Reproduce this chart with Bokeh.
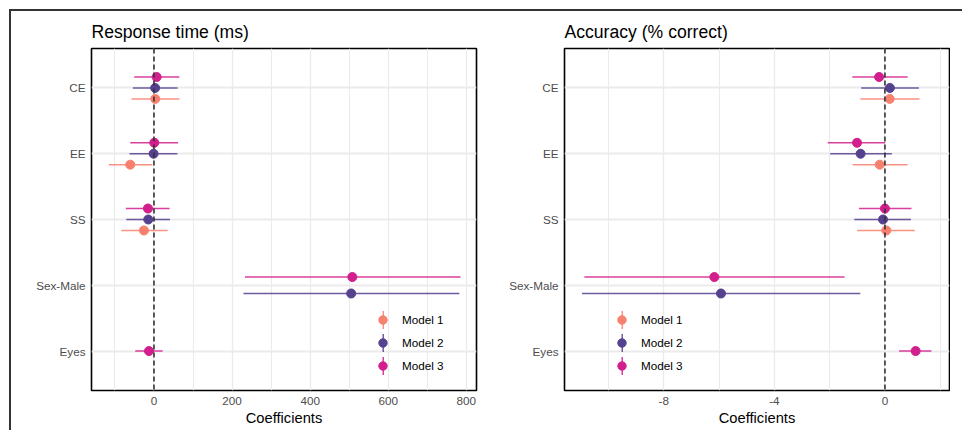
import numpy as np
from bokeh.plotting import figure
from bokeh.models import ColumnDataSource, FixedTicker, Range1d, Span, Legend, LegendItem, Div
from bokeh.layouts import row, column
from bokeh.embed import file_html
from bokeh.resources import INLINE

FONT = "Liberation Sans"

terms = ["CE", "EE", "SS", "Sex-Male", "Eyes"]
models = ["Model 1", "Model 2", "Model 3"]
colors = ["#F8806E", "#56418F", "#D21F8D"]

# Response time (ms)
rt_est_m1 = [3.3, -60.8, -25.7, None, None]
rt_lo_m1 = [-57.5, -115.6, -84.0, None, None]
rt_hi_m1 = [65.0, -4.4, 35.0, None, None]
rt_est_m2 = [3.0, -1.0, -14.6, 505.0, None]
rt_lo_m2 = [-54.0, -62.6, -71.0, 229.0, None]
rt_hi_m2 = [60.7, 60.0, 41.0, 782.0, None]
rt_est_m3 = [6.8, 0.8, -15.4, 508.0, -12.8]
rt_lo_m3 = [-50.6, -60.8, -72.0, 233.0, -48.0]
rt_hi_m3 = [65.0, 61.6, 40.0, 785.0, 22.0]

# Accuracy (% correct)
acc_est_m1 = [0.17, -0.19, 0.05, None, None]
acc_lo_m1 = [-0.89, -1.17, -1.01, None, None]
acc_hi_m1 = [1.25, 0.82, 1.08, None, None]
acc_est_m2 = [0.18, -0.88, -0.07, -5.93, None]
acc_lo_m2 = [-0.86, -1.98, -1.11, -10.96, None]
acc_hi_m2 = [1.23, 0.25, 0.94, -0.89, None]
acc_est_m3 = [-0.21, -1.01, 0.00, -6.17, 1.11]
acc_lo_m3 = [-1.18, -2.07, -0.94, -10.87, 0.51]
acc_hi_m3 = [0.82, 0.01, 0.96, -1.46, 1.68]

rt_ticks = [0, 200, 400, 600, 800]
rt_minor = [-100, 100, 300, 500, 700]
acc_ticks = [-8, -4, 0]
acc_minor = [-10, -6, -2, 2]

DODGE = 0.5


def panel(title, est, lo, hi, x_range, ticks, minor, legend_x, width, mbl, mbr):
    p = figure(width=width, height=419, output_backend="svg", toolbar_location=None,
               x_range=Range1d(*x_range), y_range=Range1d(0.4, len(terms) + 0.6),
               min_border_left=mbl, min_border_right=mbr, min_border_top=37,
               min_border_bottom=40)
    p.background_fill_color = "white"
    p.border_fill_color = "white"
    p.outline_line_color = "black"
    p.outline_line_width = 1.6

    p.title.text = title
    p.title.text_font = FONT
    p.title.text_font_size = "17.6px"
    p.title.text_font_style = "normal"
    p.title.text_color = "black"
    p.title.align = "left"
    p.title.offset = 0
    p.title.standoff = 14

    pos = {t: len(terms) - i for i, t in enumerate(terms)}
    yt = [pos[t] for t in terms]
    p.yaxis.ticker = FixedTicker(ticks=yt)
    p.yaxis.major_label_overrides = {pos[t]: t for t in terms}
    p.xaxis.ticker = FixedTicker(ticks=ticks, minor_ticks=minor)
    p.xaxis.major_label_overrides = {t: "%g" % t for t in ticks}

    for ax in (p.xaxis, p.yaxis):
        ax.axis_line_color = None
        ax.major_tick_line_color = None
        ax.minor_tick_line_color = None
        ax.major_tick_out = 0
        ax.minor_tick_out = 0
        ax.major_label_text_font = FONT
        ax.major_label_text_font_size = "11.7px"
        ax.major_label_text_color = "#4D4D4D"
    p.yaxis.major_label_standoff = 6
    p.xaxis.major_label_standoff = 6
    p.xaxis.axis_label = "Coefficients"
    p.xaxis.axis_label_text_font = FONT
    p.xaxis.axis_label_text_font_size = "14.7px"
    p.xaxis.axis_label_text_font_style = "normal"
    p.xaxis.axis_label_text_color = "black"
    p.xaxis.axis_label_standoff = 2

    p.xgrid.grid_line_color = "#EBEBEB"
    p.xgrid.grid_line_width = 1.3
    p.xgrid.minor_grid_line_color = "#EBEBEB"
    p.xgrid.minor_grid_line_width = 1.1
    p.ygrid.grid_line_color = "#EBEBEB"
    p.ygrid.grid_line_width = 1.8

    p.add_layout(Span(location=0, dimension="height", line_color="#333333",
                      line_width=1.6, line_dash="5 3"))

    present = {t: [k for k in range(len(models)) if est[k][i] is not None]
               for i, t in enumerate(terms)}

    pts = []
    for k, m in enumerate(models):
        ys, xs, los, his = [], [], [], []
        for i, t in enumerate(terms):
            if est[k][i] is None:
                continue
            pr = present[t]
            n = len(pr)
            j = pr.index(k)
            ys.append(pos[t] + (j - (n - 1) / 2) * DODGE / n)
            xs.append(est[k][i])
            los.append(lo[k][i])
            his.append(hi[k][i])
        src = ColumnDataSource(dict(y=ys, x=xs, lo=los, hi=his))
        p.segment(x0="lo", x1="hi", y0="y", y1="y", source=src,
                  line_color=colors[k], line_width=1.5, line_alpha=0.85)
        r = p.scatter(x="x", y="y", source=src, size=9, marker="circle",
                      fill_color=colors[k], line_color=colors[k])
        pts.append(r)

    common = dict(orientation="vertical", background_fill_alpha=0, border_line_alpha=0,
                  padding=0, margin=0, glyph_height=21, label_height=21, spacing=2,
                  label_text_font=FONT, label_text_font_size="11.7px",
                  label_text_color="black")
    # legend keys: thin vertical stroke (short, very thick line) under a dot
    bar_items = []
    for k, m in enumerate(models):
        vr = p.vspan(x=[np.nan], line_color=colors[k], line_width=18, line_alpha=0.85)
        bar_items.append(LegendItem(label=" ", renderers=[vr]))
    leg_bar = Legend(items=bar_items, location=(legend_x + 9.5, 14), glyph_width=2,
                     label_standoff=0, **common)
    p.add_layout(leg_bar)
    dot_items = [LegendItem(label=m, renderers=[pts[k]]) for k, m in enumerate(models)]
    leg = Legend(items=dot_items, location=(legend_x, 14), glyph_width=21,
                 label_standoff=9, **common)
    p.add_layout(leg)
    return p


p1 = panel("Response time (ms)", [rt_est_m1, rt_est_m2, rt_est_m3],
           [rt_lo_m1, rt_lo_m2, rt_lo_m3], [rt_hi_m1, rt_hi_m2, rt_hi_m3],
           (-160, 826), rt_ticks, rt_minor, 281, 469, 80, 4)
p2 = panel("Accuracy (% correct)", [acc_est_m1, acc_est_m2, acc_est_m3],
           [acc_lo_m1, acc_lo_m2, acc_lo_m3], [acc_hi_m1, acc_hi_m2, acc_hi_m3],
           (-11.59, 2.335), acc_ticks, acc_minor, 47, 470, 84, 1)

top_rule = Div(text="", width=953, height=2, margin=0,
               styles={"background-color": "#333333"})
left_rule = Div(text="", width=2, height=419, margin=0,
                styles={"background-color": "#333333"})

layout = column(top_rule, row(left_rule, p1, p2, margin=0), margin=(9, 0, 0, 9))

open("out.html", "w").write(file_html(layout, INLINE))
